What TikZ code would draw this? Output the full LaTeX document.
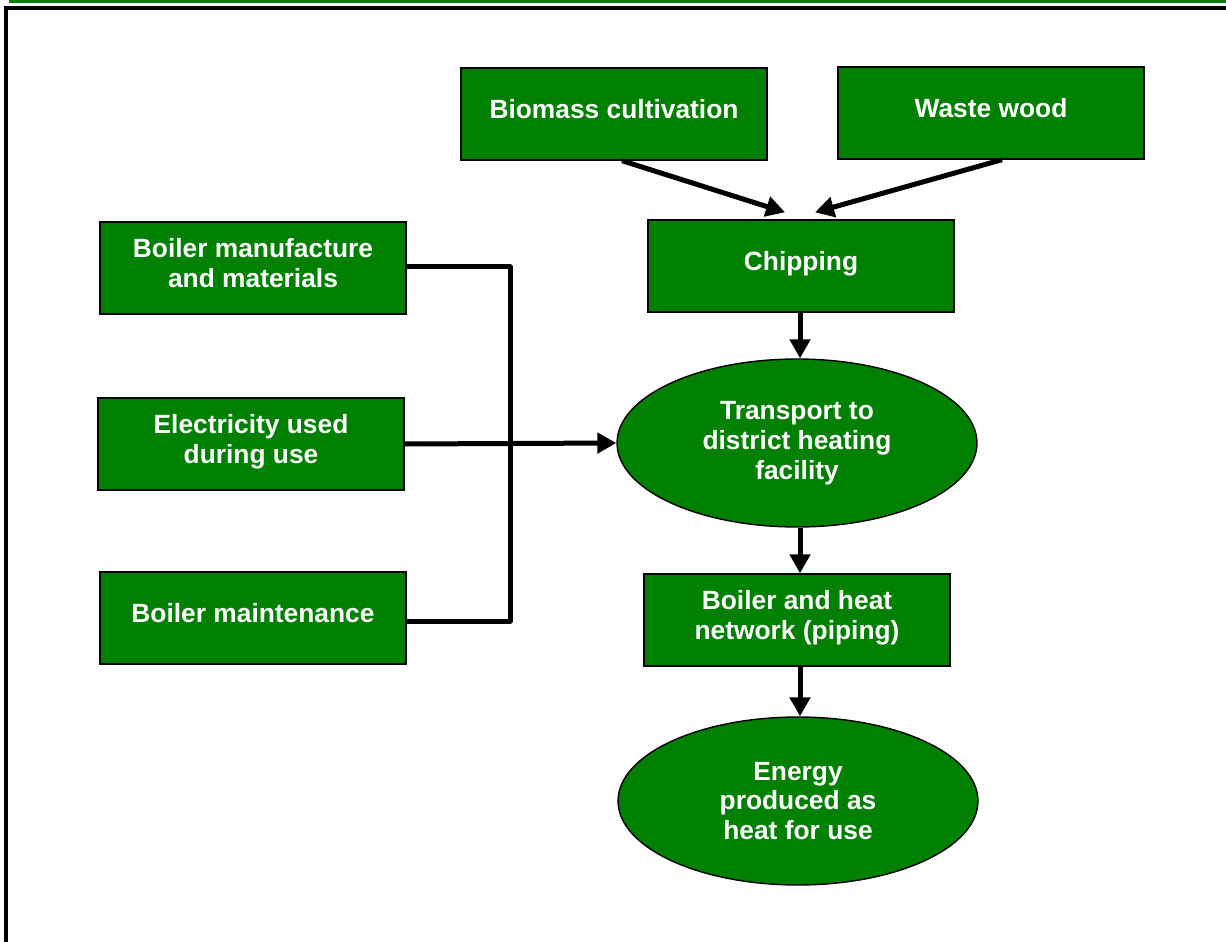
\documentclass[tikz,border=0pt]{standalone}
\usepackage{fontspec}
\setmainfont{Liberation Sans}
\usetikzlibrary{positioning,calc,shapes.geometric,arrows.meta}
\definecolor{officegreen}{RGB}{0,128,0}

\begin{document}
\begin{tikzpicture}[x=0.02cm,y=-0.02cm,>={Triangle[length=0.38cm,width=0.4cm]},
                flow/.style={->,line width=0.1cm,line join=round},
                stage node/.style={rectangle,draw,line width=0.8pt,fill=officegreen,text=white,
                    font=\bfseries\fontsize{15}{17}\selectfont,align=center,
                    minimum width=6.12cm,minimum height=1.84cm,text depth=0.2cm},
                round node/.style={ellipse,draw,line width=0.8pt,fill=officegreen,text=white,
                    font=\bfseries\fontsize{15}{17}\selectfont,align=center,inner sep=0pt,
                    minimum width=7.2cm,minimum height=3.36cm}]
\useasboundingbox (0,0) rectangle (1226,942);
%Frame
    \fill[officegreen] (9,0) rectangle (1226,3);
    \draw[line width=2.4pt] (6,942) -- (6,8) -- (1226,8);
%Nodes
    \node[stage node] (biomass) at (614,114) {Biomass cultivation};
    \node[stage node] (waste) at (991,113) {Waste wood};
    \node[stage node] (chip) at (801,266) {Chipping};
    \node[stage node] (manuf) at (253,268) {Boiler manufacture\\and materials};
    \node[stage node] (elec) at (251,444) {Electricity used\\during use};
    \node[stage node] (maint) at (253,618) {Boiler maintenance};
    \node[round node] (transport) at (797,443) {Transport to\\district heating\\facility};
    \node[stage node] (boiler) at (797,620) {Boiler and heat\\network (piping)};
    \node[round node] (energy) at (798,801) {Energy\\produced as\\heat for use};
    \coordinate (jtop) at (510,267);
    \coordinate (jbot) at (510,621);

    \draw[flow] ([xshift=0.16cm]biomass.south) -- ([xshift=-0.32cm,yshift=0.14cm]chip.north);
    \draw[flow] ([xshift=0.22cm]waste.south) -- ([xshift=0.28cm,yshift=0.14cm]chip.north);
    \draw[flow,-] (manuf.east |- jtop) -- (jtop) -- (jbot) -- (maint.east |- jbot);
    \draw[flow] (elec.east) -- (transport.west);
    \draw[flow] (chip.south -| 800,0) -- (transport.north -| 800,0);
    \draw[flow] (transport.south -| 800,0) -- (boiler.north -| 800,0);
    \draw[flow] (boiler.south -| 800,0) -- (energy.north -| 800,0);
\end{tikzpicture}
\end{document}
